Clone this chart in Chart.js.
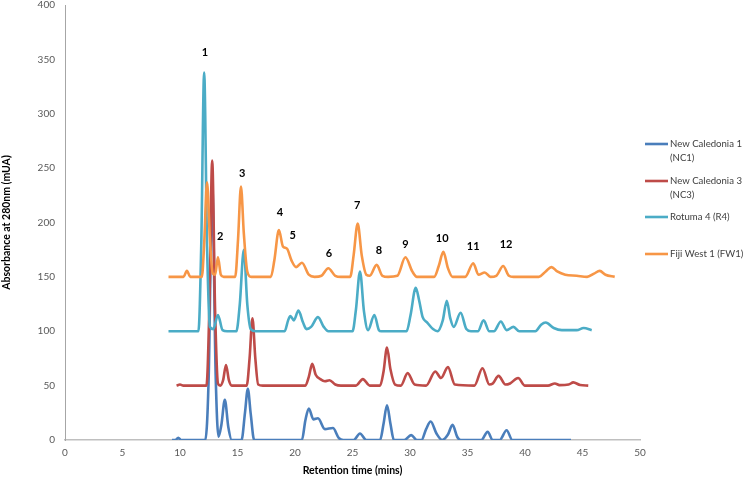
<!DOCTYPE html>
<html><head><meta charset="utf-8">
<script src="https://cdn.jsdelivr.net/npm/chart.js@4.4.1/dist/chart.umd.min.js"></script>
<style>html,body{margin:0;padding:0;background:#fff}</style>
</head><body>
<canvas id="c" width="744" height="477"></canvas>
<script>
// ---- data ----
const seriesLabels = [["New Caledonia 1","(NC1)"],["New Caledonia 3","(NC3)"],["Rotuma 4 (R4)"],["Fiji West 1 (FW1)"]];
const seriesColors = ["#4A7EBB","#BE4B48","#4BACC6","#F79646"];

const xTicks = [0,5,10,15,20,25,30,35,40,45,50];
const yTicks = [0,50,100,150,200,250,300,350,400];

const nc1 = [[9.3,0],[9.6,0],[9.85,2],[10.1,0],[12.2,0],[12.5,60],[12.8,235],[13.1,60],[13.35,3],[13.6,14],[13.9,37],[14.2,12],[14.5,0],[15.35,0],[15.65,25],[15.9,47],[16.15,24],[16.45,0],[20.6,0],[20.9,18],[21.2,29],[21.6,19],[22.0,20],[22.6,10],[23.3,11],[23.8,2],[24.2,0],[25.1,0],[25.65,6],[26.2,0],[27.4,0],[27.7,15],[28.0,32],[28.3,15],[28.6,0],[29.5,0],[30.1,4.5],[30.6,0],[31.0,0],[31.4,10],[31.8,17],[32.3,6],[32.8,0],[33.3,5],[33.7,14],[34.1,3],[34.4,0],[36.2,0],[36.75,7.5],[37.2,0],[37.8,0],[38.4,9],[38.9,0],[44.0,0]];

const nc3 = [[9.7,50],[10.0,51],[10.3,50],[12.3,50],[12.55,120],[12.8,257],[13.05,120],[13.3,52],[13.5,50],[13.75,55],[14.0,69],[14.25,55],[14.5,50],[15.8,50],[16.05,75],[16.3,112],[16.55,75],[16.8,51],[17.2,50],[20.9,50],[21.2,58],[21.5,70],[21.8,60],[22.2,56],[22.6,54],[23.0,55],[23.5,51],[24.0,50],[25.3,50],[25.9,56],[26.5,50],[27.4,50],[27.7,63],[28.0,85],[28.3,65],[28.7,51],[29.2,50],[29.8,61.5],[30.4,51],[31.4,50],[32.2,63],[32.7,57],[33.3,67],[33.9,51],[35.6,50],[36.3,66],[36.9,51],[37.2,52],[37.7,59],[38.3,51],[38.7,52],[39.4,57],[40.0,50],[42.0,50],[42.6,52],[43.0,50.5],[43.8,51],[44.2,53],[44.8,50.5],[45.5,50]];

const r4 = [[9.0,100],[11.6,100],[11.85,180],[12.1,338],[12.35,180],[12.6,104],[12.9,102],[13.3,115],[13.7,101],[14.1,100],[14.9,100],[15.2,125],[15.55,175],[15.85,125],[16.15,102],[16.6,100],[19.1,100],[19.4,110],[19.6,114],[19.9,110],[20.3,119],[20.7,108],[21.0,102],[21.4,104],[22.0,113],[22.5,104],[22.9,100],[25.0,100],[25.3,120],[25.65,155],[26.0,118],[26.35,101],[26.9,115],[27.3,101],[27.5,100],[29.7,100],[30.05,115],[30.5,140],[30.8,128],[31.1,113],[31.5,108],[32.0,102],[32.4,100],[32.85,110],[33.2,128],[33.5,112],[33.8,104],[34.4,117],[34.9,102],[35.3,100],[35.9,100],[36.4,110],[36.9,100],[37.3,100],[37.9,109],[38.4,101],[39.0,104],[39.5,100],[40.9,100],[41.4,106],[41.8,108],[42.5,103],[43.2,101],[44.5,101],[45.1,103],[45.8,101]];

const fw1 = [[9.0,150],[10.3,150],[10.6,155.5],[10.9,150],[11.9,150],[12.1,180],[12.35,237],[12.6,185],[12.85,153],[13.05,152],[13.3,168],[13.55,152],[13.8,150],[14.8,150],[15.05,185],[15.3,233],[15.55,190],[15.85,155],[16.2,150],[17.9,150],[18.2,165],[18.6,193],[18.95,178],[19.3,176],[19.7,165],[20.1,159],[20.6,163],[21.2,152],[21.7,150],[22.3,151],[22.9,158],[23.5,151],[24.0,150],[24.8,150],[25.1,170],[25.45,199],[25.8,170],[26.2,152],[26.5,151],[27.1,161],[27.6,151],[28.1,150],[28.9,151],[29.6,168],[30.2,155],[30.6,150],[32.1,150],[32.5,160],[32.9,173],[33.3,158],[33.7,150],[34.8,150],[35.5,162.5],[35.95,152],[36.5,154],[37.0,150],[37.5,151],[38.1,160],[38.6,151],[39.0,150],[41.2,150],[41.8,155],[42.3,159],[42.8,155],[43.5,152],[44.5,151],[45.4,150],[46.0,153],[46.5,155.5],[47.0,152],[47.8,150]];

const peakLabels = ["1","2","3","4","5","6","7","8","9","10","11","12"];
const peakLabelX = [12.17,13.5,15.4,18.7,19.8,22.96,25.4,27.3,29.6,32.8,35.5,38.35];
const peakLabelY = [356,187,245,209,188.5,171.7,215.4,174.7,180,185.5,177.7,180];

// ---- chart ----
const FONT = "Lato, 'Open Sans', sans-serif";
const allSeries = [nc1, nc3, r4, fw1];
const datasets = allSeries.map((s, i) => ({
  label: seriesLabels[i].join(" "),
  data: s.map(p => ({x: p[0], y: p[1]})),
  borderColor: seriesColors[i],
  borderWidth: 2.6,
  pointRadius: 0,
  fill: false,
  cubicInterpolationMode: 'monotone',
  order: 3 - i
}));

const peakLabelPlugin = {
  id: 'peakLabels',
  afterDatasetsDraw(chart) {
    const ctx = chart.ctx, xs = chart.scales.x, ys = chart.scales.y;
    ctx.save();
    ctx.font = "bold 11px " + FONT;
    ctx.fillStyle = "#000";
    ctx.textAlign = "center";
    ctx.textBaseline = "middle";
    peakLabels.forEach((t, i) => {
      ctx.fillText(t, xs.getPixelForValue(peakLabelX[i]), ys.getPixelForValue(peakLabelY[i]));
    });
    ctx.restore();
  }
};

const legendPlugin = {
  id: 'sideLegend',
  afterDraw(chart) {
    const ctx = chart.ctx;
    const rows = [144, 181, 217, 254];
    ctx.save();
    ctx.font = "9.6px " + FONT;
    ctx.fillStyle = "#404040";
    ctx.textBaseline = "middle";
    ctx.textAlign = "left";
    seriesLabels.forEach((lines, i) => {
      const y = rows[i];
      ctx.strokeStyle = seriesColors[i];
      ctx.lineWidth = 2.6;
      ctx.beginPath();
      ctx.moveTo(645, y);
      ctx.lineTo(668, y);
      ctx.stroke();
      lines.forEach((t, j) => ctx.fillText(t, 670, y + j * 13.5));
    });
    ctx.restore();
  }
};

new Chart(document.getElementById('c'), {
  type: 'line',
  data: { datasets },
  options: {
    responsive: false,
    animation: false,
    layout: { padding: { left: 0, right: 104, top: 5, bottom: 0 } },
    plugins: { legend: { display: false }, tooltip: { enabled: false } },
    scales: {
      x: {
        type: 'linear', min: 0, max: 50,
        afterBuildTicks(s) { s.ticks = xTicks.map(v => ({value: v})); },
        afterFit(s) { s.height = 37; s.paddingLeft = 0; s.paddingRight = 0; },
        grid: { display: false, drawTicks: false },
        border: { display: true, color: '#BFBFBF', width: 1.5 },
        ticks: { padding: 7, color: '#595959', font: { family: FONT, size: 10 }, maxRotation: 0 },
        title: { display: true, text: 'Retention time (mins)', color: '#000', font: { family: FONT, size: 10.5, weight: 'bold' }, padding: { top: 0, bottom: 0 } }
      },
      y: {
        type: 'linear', min: 0, max: 400,
        afterBuildTicks(s) { s.ticks = yTicks.map(v => ({value: v})); },
        afterFit(s) { s.width = 65; s.paddingTop = 0; s.paddingBottom = 0; },
        grid: { display: false, drawTicks: false },
        border: { display: true, color: '#A6A6A6', width: 1 },
        ticks: { padding: 10, color: '#595959', font: { family: FONT, size: 10 } },
        title: { display: true, text: 'Absorbance at 280nm (mUA)', color: '#000', font: { family: FONT, size: 10.5, weight: 'bold' }, padding: { top: 0, bottom: 0 } }
      }
    }
  },
  plugins: [peakLabelPlugin, legendPlugin]
});
</script>
</body></html>
